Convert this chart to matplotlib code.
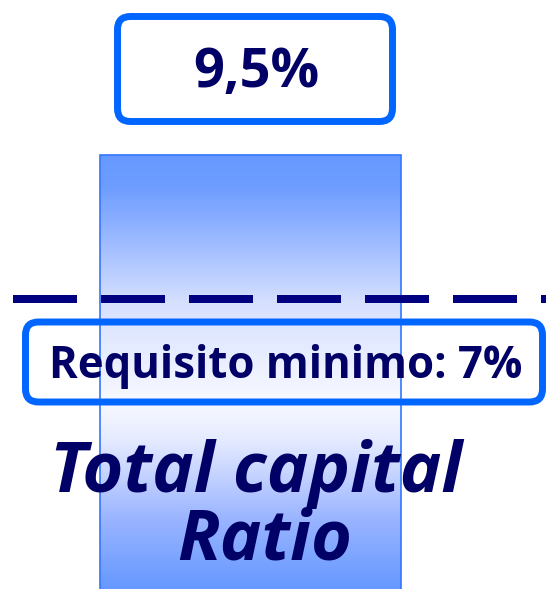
import matplotlib
matplotlib.use("Agg")
import matplotlib.pyplot as plt
import numpy as np
from matplotlib.colors import LinearSegmentedColormap
from matplotlib.patches import FancyBboxPatch
from matplotlib import transforms

categories = ["Total capital\nRatio"]
values = [9.5]
threshold = 7.0
value_label = "9,5%"
threshold_label = "Requisito minimo: 7%"
cat_lines = ["Total capital", "Ratio"]

W, H = 546, 589
fig = plt.figure(figsize=(W / 100, H / 100), dpi=100)
ax = fig.add_axes([0, 0, 1, 1])
ax.set_axis_off()

# scales: bar top at px 155, threshold at px 299
ppu = (299 - 155) / (values[0] - threshold)
ytop = values[0] + 155 / ppu
ybot = values[0] - (H - 155) / ppu
ax.set_ylim(ybot, ytop)
width = 0.5
pxu = 301 / width
ax.set_xlim(-250.5 / pxu, (W - 250.5) / pxu)

cmap = LinearSegmentedColormap.from_list("g", [
    (0.0, "#6699ff"), (0.16, "#9ab4ff"), (0.34, "#e4eaff"), (0.43, "#f8f9ff"),
    (0.66, "#d6e0ff"), (0.85, "#8aaeff"), (0.93, "#6e9dff"), (1.0, "#6699ff")])

bars = ax.bar([0], values, width=width, bottom=0, color="none",
              edgecolor="#3377ff", linewidth=1.2, zorder=3)
for b, v in zip(bars, values):
    grad = np.linspace(0, 1, 256).reshape(-1, 1)
    im = ax.imshow(grad, cmap=cmap, origin="lower", aspect="auto",
                   extent=[b.get_x(), b.get_x() + b.get_width(), ybot, v], zorder=2)
    im.set_clip_path(b)

ax.axhline(threshold, xmin=13 / W, xmax=1, color="#000080", linewidth=5.76,
           dashes=(8.0, 3.0), dash_capstyle="butt", zorder=4)

def rbox(x0, y0, x1, y1, fc):
    p = FancyBboxPatch((x0, H - y1), x1 - x0, y1 - y0,
                       boxstyle="round,pad=0,rounding_size=13",
                       transform=transforms.IdentityTransform(),
                       facecolor=fc, edgecolor="#0066ff", linewidth=5.0, zorder=6)
    fig.add_artist(p)

rbox(117.5, 16.5, 392.5, 121.5, "white")
rbox(25.5, 322, 542.5, 402, "none")

font = "Open Sans"
fig.text(256.5 / W, 1 - 87 / H, value_label, ha="center", va="baseline",
         fontsize=39, fontweight="bold", color="#000066", family=font, zorder=7)
fig.text(286 / W, 1 - 378 / H, threshold_label, ha="center", va="baseline",
         fontsize=31.5, fontweight="bold", color="#000066", family=font, zorder=7)
fig.text(256 / W, 1 - 492 / H, cat_lines[0], ha="center", va="baseline",
         fontsize=50.5, fontweight="bold", style="italic", color="#000066", family=font, zorder=7)
fig.text(265 / W, 1 - 560 / H, cat_lines[1], ha="center", va="baseline",
         fontsize=50.5, fontweight="bold", style="italic", color="#000066", family=font, zorder=7)

fig.savefig("out.png", dpi=100)
